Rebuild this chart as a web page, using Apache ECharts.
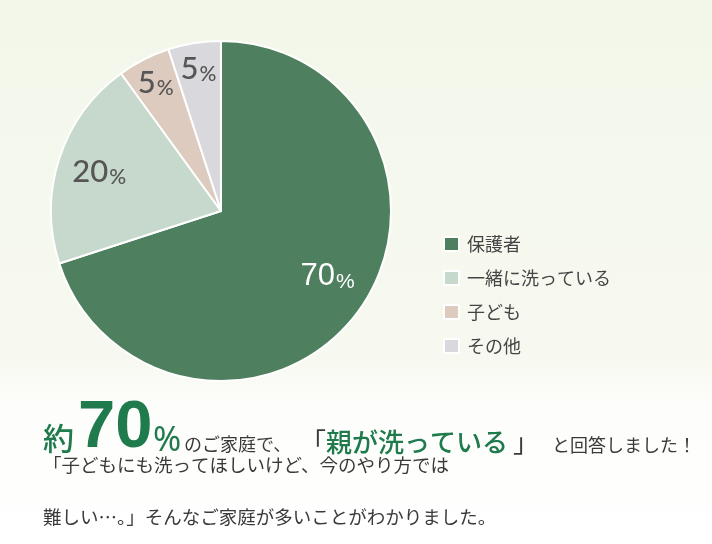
<!DOCTYPE html>
<html>
<head>
<meta charset="utf-8">
<script src="https://cdn.jsdelivr.net/npm/echarts@6/dist/echarts.min.js"></script>
<style>
  html, body { margin: 0; padding: 0; }
  #main { width: 712px; height: 544px; }
</style>
</head>
<body>
<div id="main"></div>
<script>
// 回答の内訳
const categories = ['保護者', '一緒に洗っている', '子ども', 'その他']
const shares = [70, 20, 5, 5]
const sliceColors = ['#4e7f5e', '#c7d9cd', '#dccbbe', '#d9d9dd']

const headline = ['約', '70', '%', 'のご家庭で、', '「親が洗っている」', 'と回答しました！']
const bodyLines = [
    '「子どもにも洗ってほしいけど、今のやり方では',
    '難しい…。」そんなご家庭が多いことがわかりました。'
]

const JP = '"Noto Sans CJK JP", sans-serif'
const GREEN = '#1f7a4c'
const TEXT = '#3a3a3a'

const chart = echarts.init(document.getElementById('main'))

const pieData = categories.map((name, i) => ({
    name: name,
    value: shares[i],
    itemStyle: { color: sliceColors[i] }
}))

// ラベルだけ描く透明な円（ラベル位置を中心から少し外へ）
function labelRing(radius, pick) {
    return {
        type: 'pie',
        silent: true,
        center: [221, 211],
        radius: [0, radius],
        startAngle: 90,
        clockwise: true,
        z: 5,
        itemStyle: { color: 'transparent', borderWidth: 0 },
        emphasis: { disabled: true },
        labelLine: { show: false },
        data: categories.map((name, i) => ({
            name: name,
            value: shares[i],
            label: {
                show: pick(shares[i]),
                position: 'inside',
                formatter: '{n|{c}}{p|%}',
                padding: i === 0 ? [0, 0, 20, 6] : 0,
                rich: i === 0 ? {
                    n: { fontFamily: '"Liberation Sans", Arial, sans-serif', fontSize: 31, color: '#fff', verticalAlign: 'bottom', lineHeight: 32 },
                    p: { fontFamily: '"Liberation Sans", Arial, sans-serif', fontSize: 21, color: '#fff', verticalAlign: 'bottom', lineHeight: 30, padding: [0, 0, 0, 1] }
                } : {
                    n: { fontFamily: 'Lato, sans-serif', fontSize: 31, fontWeight: 500, color: '#565656', verticalAlign: 'bottom', lineHeight: 32 },
                    p: { fontFamily: 'Lato, sans-serif', fontSize: 21, fontWeight: 500, color: '#565656', verticalAlign: 'bottom', lineHeight: 30, padding: [0, 0, 0, 1] }
                }
            }
        }))
    }
}

chart.setOption({
    backgroundColor: new echarts.graphic.LinearGradient(0, 0, 0, 1, [
        { offset: 0, color: '#f3f7ea' },
        { offset: 0.66, color: '#f7f9f0' },
        { offset: 0.74, color: '#fdfdfb' },
        { offset: 1, color: '#ffffff' }
    ]),
    animation: false,
    legend: {
        orient: 'vertical',
        left: 438,
        top: 230,
        icon: 'rect',
        itemWidth: 15,
        itemHeight: 14,
        itemGap: 16,
        data: categories,
        selectedMode: false,
        textStyle: {
            fontFamily: JP,
            fontSize: 18,
            color: '#444',
            padding: [0, 0, 0, 3]
        }
    },
    series: [
        {
            type: 'pie',
            center: [221, 211],
            radius: [0, 170],
            startAngle: 90,
            clockwise: true,
            itemStyle: { borderColor: '#fff', borderWidth: 2 },
            label: { show: false },
            labelLine: { show: false },
            emphasis: { scale: false },
            data: pieData
        },
        labelRing(250, v => v >= 10),
        labelRing(282, v => v < 10)
    ],
    graphic: [
        { type: 'text', left: 43, top: 423, style: { text: headline[0], font: '500 31px ' + JP, fill: GREEN } },
        { type: 'text', left: 78, top: 395, style: { text: headline[1], font: 'bold 67px "Liberation Sans", Arial, sans-serif', fill: GREEN } },
        { type: 'text', left: 153, top: 424, style: { text: headline[2], font: '34px "Noto Sans", sans-serif', fill: GREEN } },
        { type: 'text', left: 184, top: 435, style: { text: headline[3], font: '18px ' + JP, fill: TEXT } },
        {
            type: 'text', left: 300, top: 429,
            style: {
                text: '{b|「}{g|' + headline[4].slice(1, -1) + '}{c|」}',
                rich: {
                    b: { font: '26px ' + JP, fill: TEXT },
                    g: { font: '500 26px ' + JP, fill: GREEN },
                    c: { font: '26px ' + JP, fill: TEXT, padding: [0, 0, 0, 5] }
                }
            }
        },
        { type: 'text', left: 552, top: 436, style: { text: headline[5], font: '18px ' + JP, fill: TEXT } },
        { type: 'text', left: 43, top: 456, style: { text: bodyLines[0], font: '18.5px ' + JP, fill: TEXT } },
        { type: 'text', left: 43, top: 508, style: { text: bodyLines[1], font: '18.5px ' + JP, fill: TEXT } }
    ]
})
</script>
</body>
</html>
